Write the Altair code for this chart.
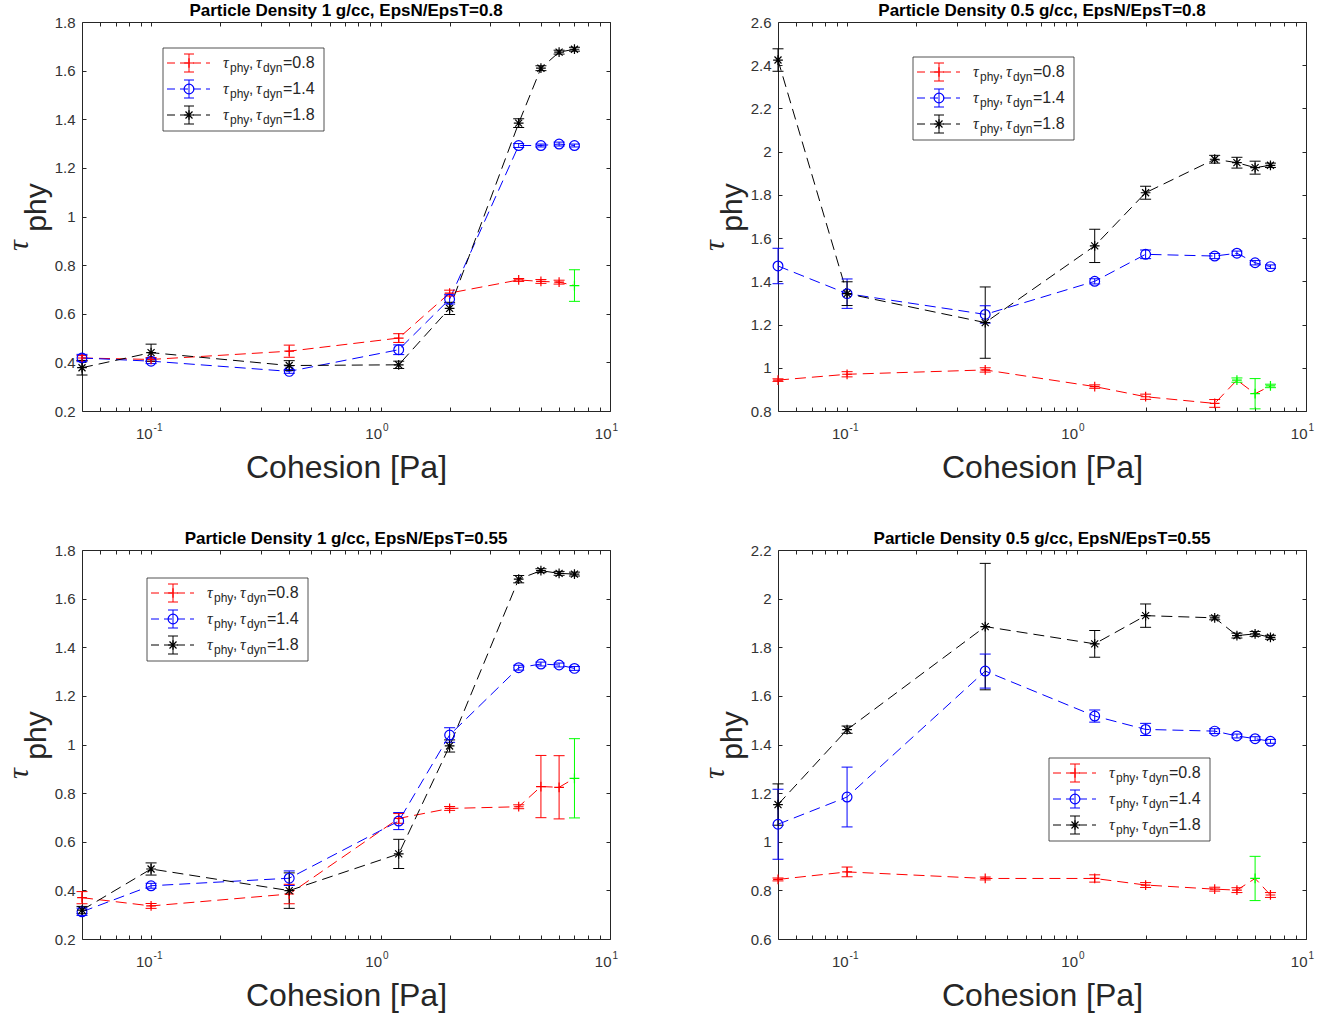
import altair as alt
import pandas as pd

FONT = "Liberation Sans"
SERIF = "Liberation Serif"
INK = "#262626"
LAB = "#333333"

COHESION = [0.05, 0.1, 0.4, 1.2, 2, 4, 5, 6, 7]
SERIES = ["0.8", "1.4", "1.8"]
SERIES_KEY = {"0.8": "red", "1.4": "blue", "1.8": "black"}
HEX = {"red": "#ff0000", "green": "#00ff00", "blue": "#0000ff", "black": "#000000"}

TITLES = [
    "Particle Density 1 g/cc, EpsN/EpsT=0.8",
    "Particle Density 0.5 g/cc, EpsN/EpsT=0.8",
    "Particle Density 1 g/cc, EpsN/EpsT=0.55",
    "Particle Density 0.5 g/cc, EpsN/EpsT=0.55",
]

# Panel A: 1 g/cc, EpsN/EpsT = 0.8
A_TAU_08 = [0.418, 0.412, 0.446, 0.500, 0.685, 0.739, 0.733, 0.730, 0.716]
A_ERR_08 = [0.010, 0.008, 0.025, 0.018, 0.012, 0.006, 0.008, 0.008, 0.065]
A_TAU_14 = [0.418, 0.405, 0.363, 0.452, 0.660, 1.292, 1.292, 1.298, 1.292]
A_ERR_14 = [0.015, 0.010, 0.008, 0.020, 0.020, 0.008, 0.006, 0.008, 0.006]
A_TAU_18 = [0.378, 0.440, 0.387, 0.390, 0.622, 1.384, 1.610, 1.676, 1.688]
A_ERR_18 = [0.030, 0.035, 0.020, 0.015, 0.025, 0.018, 0.010, 0.008, 0.008]
A_GREEN = [8]

# Panel B: 0.5 g/cc, EpsN/EpsT = 0.8
B_TAU_08 = [0.943, 0.970, 0.990, 0.913, 0.866, 0.835, 0.943, 0.880, 0.916]
B_ERR_08 = [0.006, 0.012, 0.010, 0.008, 0.012, 0.018, 0.010, 0.070, 0.008]
B_TAU_14 = [1.471, 1.343, 1.247, 1.400, 1.525, 1.517, 1.530, 1.486, 1.468]
B_ERR_14 = [0.082, 0.068, 0.040, 0.012, 0.020, 0.012, 0.010, 0.010, 0.008]
B_TAU_18 = [2.424, 1.343, 1.209, 1.564, 1.810, 1.965, 1.949, 1.926, 1.937]
B_ERR_18 = [0.052, 0.055, 0.165, 0.077, 0.030, 0.018, 0.025, 0.030, 0.010]
B_GREEN = [6, 7, 8]

# Panel C: 1 g/cc, EpsN/EpsT = 0.55
C_TAU_08 = [0.370, 0.336, 0.385, 0.696, 0.737, 0.744, 0.827, 0.824, 0.861]
C_ERR_08 = [0.025, 0.010, 0.040, 0.020, 0.008, 0.008, 0.128, 0.130, 0.163]
C_TAU_14 = [0.312, 0.419, 0.450, 0.685, 1.039, 1.316, 1.331, 1.327, 1.313]
C_ERR_14 = [0.015, 0.010, 0.030, 0.035, 0.030, 0.010, 0.008, 0.008, 0.008]
C_TAU_18 = [0.319, 0.488, 0.399, 0.550, 0.994, 1.680, 1.715, 1.704, 1.701]
C_ERR_18 = [0.015, 0.025, 0.073, 0.060, 0.025, 0.015, 0.008, 0.008, 0.008]
C_GREEN = [8]

# Panel D: 0.5 g/cc, EpsN/EpsT = 0.55
D_TAU_08 = [0.845, 0.876, 0.849, 0.849, 0.822, 0.805, 0.801, 0.849, 0.781]
D_ERR_08 = [0.006, 0.020, 0.006, 0.015, 0.010, 0.008, 0.010, 0.091, 0.010]
D_TAU_14 = [1.072, 1.184, 1.702, 1.517, 1.462, 1.455, 1.435, 1.424, 1.413]
D_ERR_14 = [0.144, 0.123, 0.070, 0.025, 0.025, 0.010, 0.008, 0.008, 0.008]
D_TAU_18 = [1.153, 1.461, 1.885, 1.814, 1.930, 1.921, 1.848, 1.855, 1.841]
D_ERR_18 = [0.085, 0.015, 0.260, 0.055, 0.048, 0.008, 0.010, 0.010, 0.008]
D_GREEN = [7]

Y_DOMAINS = [[0.2, 1.8], [0.8, 2.6], [0.2, 1.8], [0.6, 2.2]]
Y_TICKS = [
    [0.2, 0.4, 0.6, 0.8, 1.0, 1.2, 1.4, 1.6, 1.8],
    [0.8, 1.0, 1.2, 1.4, 1.6, 1.8, 2.0, 2.2, 2.4, 2.6],
    [0.2, 0.4, 0.6, 0.8, 1.0, 1.2, 1.4, 1.6, 1.8],
    [0.6, 0.8, 1.0, 1.2, 1.4, 1.6, 1.8, 2.0, 2.2],
]
X_MAJOR = [0.1, 1, 10]
X_TICKS = [0.06, 0.07, 0.08, 0.09, 0.1, 0.2, 0.3, 0.4, 0.5, 0.6, 0.7, 0.8, 0.9,
           1, 2, 3, 4, 5, 6, 7, 8, 9, 10]

PANELS = [
    dict(tau=[A_TAU_08, A_TAU_14, A_TAU_18], err=[A_ERR_08, A_ERR_14, A_ERR_18], green=A_GREEN),
    dict(tau=[B_TAU_08, B_TAU_14, B_TAU_18], err=[B_ERR_08, B_ERR_14, B_ERR_18], green=B_GREEN),
    dict(tau=[C_TAU_08, C_TAU_14, C_TAU_18], err=[C_ERR_08, C_ERR_14, C_ERR_18], green=C_GREEN),
    dict(tau=[D_TAU_08, D_TAU_14, D_TAU_18], err=[D_ERR_08, D_ERR_14, D_ERR_18], green=D_GREEN),
]
LEGEND_POS = [(81, 26), (135, 35), (65, 28), (271, 208)]

W, H = 528, 389
PLUS = "M-1,0L1,0M0,-1L0,1"
STAR = "M-1,0L1,0M0,-1L0,1M-0.72,-0.72L0.72,0.72M-0.72,0.72L0.72,-0.72"
SHAPES = {"0.8": PLUS, "1.4": "circle", "1.8": STAR}
CSCALE = alt.Scale(domain=["red", "green", "blue", "black"],
                   range=[HEX["red"], HEX["green"], HEX["blue"], HEX["black"]])
ONE = pd.DataFrame({"k": [0]})


def txt(s, x, y, size, color=INK, italic=False, font=FONT, angle=None,
        align="left", baseline="alphabetic"):
    kw = dict(text=s, fontSize=size, font=font, color=color, align=align, baseline=baseline)
    if italic:
        kw["fontStyle"] = "italic"
    if angle is not None:
        kw["angle"] = angle
    return alt.Chart(ONE).mark_text(**kw).encode(x=alt.value(x), y=alt.value(y))


def legend_layers(bx, by):
    layers = [alt.Chart(ONE).mark_rect(fill="white", stroke=INK, strokeWidth=0.8).encode(
        x=alt.value(bx), x2=alt.value(bx + 161), y=alt.value(by), y2=alt.value(by + 83))]
    for k, s in enumerate(SERIES):
        col = HEX[SERIES_KEY[s]]
        yc = by + 15 + 26 * k
        mx = bx + 26
        layers.append(alt.Chart(ONE).mark_rule(color=col, strokeWidth=1, strokeDash=[8, 5]).encode(
            x=alt.value(bx + 4), x2=alt.value(bx + 47), y=alt.value(yc)))
        layers.append(alt.Chart(ONE).mark_rule(color=col, strokeWidth=1).encode(
            x=alt.value(mx), y=alt.value(yc - 9), y2=alt.value(yc + 9)))
        for cy in (yc - 9, yc + 9):
            layers.append(alt.Chart(ONE).mark_rule(color=col, strokeWidth=1).encode(
                x=alt.value(mx - 5), x2=alt.value(mx + 5), y=alt.value(cy)))
        layers.append(alt.Chart(ONE).mark_point(shape=SHAPES[s], size=95, filled=False,
                                                color=col, strokeWidth=1.2, opacity=1).encode(
            x=alt.value(mx), y=alt.value(yc)))
        T = bx + 60
        b = yc + 5
        layers += [
            txt("τ", T, b, 16, italic=True, font=SERIF),
            txt("phy", T + 7, b + 4, 12),
            txt(",", T + 26, b, 15),
            txt("τ", T + 33, b, 16, italic=True, font=SERIF),
            txt("dyn", T + 40, b + 4, 12),
            txt("=" + s, T + 60, b, 16),
        ]
    return layers


def make_panel(i):
    p = PANELS[i]
    rows = []
    for s, taus, errs in zip(SERIES, p["tau"], p["err"]):
        for j, (x, y, e) in enumerate(zip(COHESION, taus, errs)):
            pc = "green" if (s == "0.8" and j in p["green"]) else SERIES_KEY[s]
            rows.append(dict(coh=x, tau=y, lo=y - e, hi=y + e, series=s,
                             lc=SERIES_KEY[s], pc=pc))
    df = pd.DataFrame(rows)
    base = alt.Chart(df)
    xs = alt.Scale(type="log", domain=[0.05, 10], nice=False)
    ys = alt.Scale(domain=Y_DOMAINS[i], nice=False, zero=False)
    col = alt.Color("pc:N", scale=CSCALE, legend=None)

    ax_x_lab = alt.Axis(orient="bottom", values=X_MAJOR, labelExpr="'10'", labelAlign="right",
                        labelOffset=1, labelFontSize=15, labelPadding=15, labelFlush=False,
                        labelOverlap=False, labelFont=FONT, labelColor=LAB,
                        ticks=False, domain=False, grid=False,
                        title="Cohesion [Pa]", titleFontSize=32, titleFontWeight="normal",
                        titleFont=FONT, titleColor=INK, titlePadding=11)
    ax_x_exp = alt.Axis(orient="bottom", values=X_MAJOR,
                        labelExpr="datum.value < 0.5 ? '-1' : (datum.value < 5 ? '0' : '1')",
                        labelAlign="left", labelOffset=2, labelFontSize=10, labelPadding=11,
                        labelFlush=False, labelOverlap=False, labelFont=FONT, labelColor=LAB,
                        ticks=False, domain=False, grid=False, title=None)
    ax_x_in_b = alt.Axis(orient="bottom", values=X_TICKS, offset=-4, tickSize=4, labels=False,
                         domain=False, grid=False, title=None, tickColor=INK)
    ax_x_in_t = alt.Axis(orient="top", values=X_TICKS, offset=-4, tickSize=4, labels=False,
                         domain=False, grid=False, title=None, tickColor=INK)
    ax_y_lab = alt.Axis(orient="left", values=Y_TICKS[i], format=".1~f", labelFontSize=15,
                        labelPadding=7, labelFont=FONT, labelColor=LAB, labelFlush=False,
                        labelOverlap=False, ticks=False, domain=False, grid=False, title=None)
    ax_y_in_l = alt.Axis(orient="left", values=Y_TICKS[i], offset=-4, tickSize=4, labels=False,
                         domain=False, grid=False, title=None, tickColor=INK)
    ax_y_in_r = alt.Axis(orient="right", values=Y_TICKS[i], offset=-4, tickSize=4, labels=False,
                         domain=False, grid=False, title=None, tickColor=INK)

    line = base.mark_line(strokeDash=[11, 6], strokeWidth=1).encode(
        x=alt.X("coh:Q", scale=xs, axis=ax_x_lab),
        y=alt.Y("tau:Q", scale=ys, axis=ax_y_lab),
        color=alt.Color("lc:N", scale=CSCALE, legend=None),
        detail="series:N",
    )
    rule = base.mark_rule(strokeWidth=1).encode(
        x=alt.X("coh:Q", scale=xs, axis=ax_x_exp),
        y=alt.Y("lo:Q", scale=ys, axis=ax_y_in_l),
        y2="hi:Q",
        color=col,
    )
    caplo = base.mark_tick(orient="horizontal", size=11, thickness=1, opacity=1).encode(
        x=alt.X("coh:Q", scale=xs, axis=ax_x_in_b),
        y=alt.Y("lo:Q", scale=ys, axis=ax_y_in_r),
        color=col,
    )
    caphi = base.mark_tick(orient="horizontal", size=11, thickness=1, opacity=1).encode(
        x=alt.X("coh:Q", scale=xs, axis=ax_x_in_t),
        y=alt.Y("hi:Q", scale=ys, axis=None),
        color=col,
    )
    pts = base.mark_point(filled=False, size=95, strokeWidth=1.2, opacity=1).encode(
        x=alt.X("coh:Q", scale=xs, axis=None),
        y=alt.Y("tau:Q", scale=ys, axis=None),
        color=col,
        shape=alt.Shape("series:N", scale=alt.Scale(domain=SERIES, range=[PLUS, "circle", STAR]),
                        legend=None),
    )
    ytitle = [
        txt("τ", -63, H / 2 + 29, 30, italic=True, font=SERIF, angle=270,
            align="center", baseline="middle"),
        txt("phy", -45, H / 2 - 9, 30, angle=270, align="center", baseline="middle"),
    ]
    bx, by = LEGEND_POS[i]
    layers = [line, rule, caplo, caphi, pts] + ytitle + legend_layers(bx, by)
    return alt.layer(*layers).resolve_axis(x="independent", y="independent").properties(
        width=W, height=H,
        title=alt.TitleParams(TITLES[i], fontSize=17, fontWeight="bold", font=FONT,
                              color="#000000", anchor="middle", offset=-5),
    )


chart = alt.concat(
    make_panel(0), make_panel(1), make_panel(2), make_panel(3),
    columns=2, spacing={"row": 139, "column": 168}, bounds="flush",
).properties(
    padding={"left": 3, "top": 1, "right": 5, "bottom": 3}
).configure_view(stroke=INK, strokeWidth=1)

chart.save("out.html", embed_options={"renderer": "svg", "actions": False})
